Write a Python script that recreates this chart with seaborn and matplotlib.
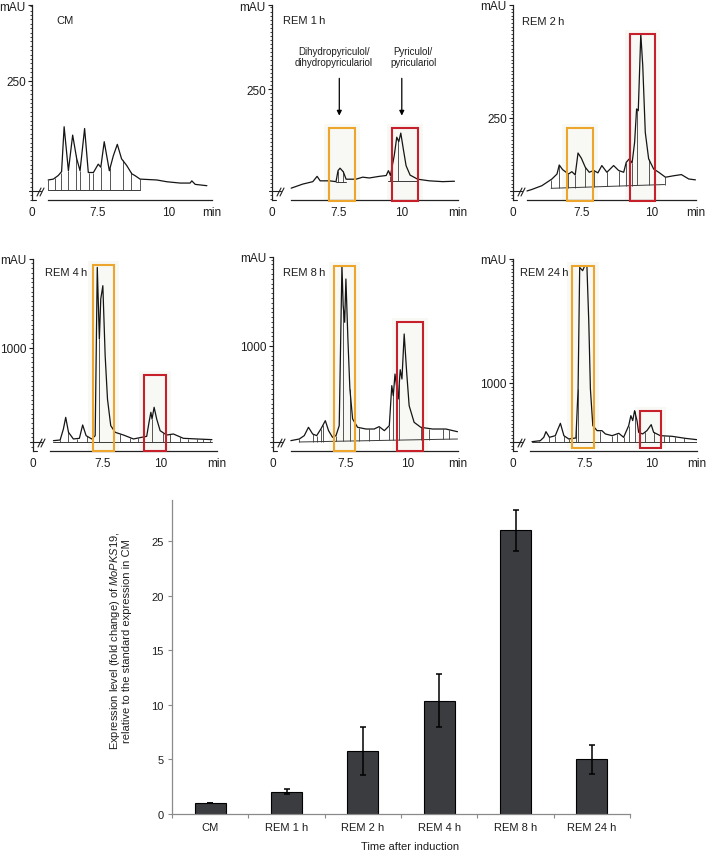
import numpy as np
import matplotlib
matplotlib.use('Agg')
import matplotlib.pyplot as plt
import matplotlib.transforms as mtransforms
from matplotlib.patches import Rectangle
from matplotlib.ticker import MultipleLocator
import seaborn as sns

# ---- HPLC traces: retention time (min) / absorbance (mAU) ----
cm_time = [5.75, 5.93, 6.10, 6.22, 6.31, 6.46, 6.61, 6.75, 6.87, 7.03, 7.16, 7.34, 7.51, 7.60, 7.72,
           7.90, 8.04, 8.18, 8.33, 8.51, 8.69, 8.80, 8.98, 9.57, 9.92, 10.39, 10.74, 10.80, 10.92, 11.33]
cm_mau = [25, 27, 35, 44, 146, 46, 127, 74, 46, 142, 42, 42, 61, 54, 112,
          46, 80, 106, 73, 58, 39, 35, 27, 25, 21, 18, 18, 23, 15, 12]
cm_drops = [5.75, 5.99, 6.19, 6.46, 6.73, 6.87, 7.18, 7.34, 7.60, 7.93, 8.37, 8.66, 8.98]
cm_base = [(5.75, 8.98, 2, 2)]

rem1_time = [5.60, 6.06, 6.46, 6.63, 6.75, 7.12, 7.38, 7.46, 7.54, 7.67, 7.78, 8.17, 8.44, 8.70, 9.10,
             9.37, 9.46, 9.54, 9.69, 9.79, 9.87, 9.95, 10.05, 10.16, 10.32, 10.62, 11.08, 11.61, 12.08]
rem1_mau = [7, 17, 23, 36, 25, 25, 23, 50, 56, 47, 29, 29, 34, 32, 36,
            38, 50, 38, 87, 132, 121, 142, 103, 62, 39, 29, 25, 23, 24]
rem1_drops = [7.46, 7.64, 9.54, 9.85]
rem1_base = [(7.38, 7.78, 23, 23), (9.43, 10.58, 25, 25)]

rem2_time = [5.54, 5.71, 6.07, 6.43, 6.61, 6.69, 6.81, 7.02, 7.14, 7.26, 7.36, 7.48, 7.62, 7.76, 7.92,
             8.07, 8.21, 8.39, 8.63, 8.81, 8.99, 9.08, 9.19, 9.29, 9.38, 9.45, 9.51, 9.60, 9.67, 9.76,
             9.88, 10.06, 10.24, 10.48, 10.77, 11.05, 11.31, 11.55]
rem2_mau = [0, 5, 18, 41, 58, 89, 73, 58, 66, 55, 130, 112, 81, 64, 70,
            62, 87, 64, 87, 70, 64, 98, 110, 96, 167, 281, 275, 538, 429, 201,
            110, 75, 64, 47, 52, 56, 41, 38]
rem2_drops = [6.40, 6.69, 7.02, 7.26, 7.62, 7.92, 8.39, 8.81, 9.07, 9.29, 9.48, 9.88, 10.45]
rem2_base = [(6.40, 10.45, 9, 22)]

rem4_time = [5.36, 5.65, 5.79, 5.89, 6.01, 6.22, 6.48, 6.62, 6.77, 7.01, 7.16, 7.25, 7.34, 7.40, 7.49,
             7.59, 7.69, 7.83, 8.02, 8.38, 8.81, 9.17, 9.38, 9.48, 9.56, 9.61, 9.70, 9.81, 9.96, 10.24,
             10.53, 10.96, 11.54, 12.19]
rem4_mau = [14, 21, 138, 262, 103, 32, 39, 181, 67, 32, 67, 1858, 1096, 1521, 1663,
            918, 457, 174, 103, 74, 32, 50, 60, 209, 316, 245, 369, 245, 120, 74,
            85, 39, 32, 25]
rem4_drops = [5.65, 6.00, 6.37, 6.82, 7.01, 7.34, 7.94, 8.23, 8.66, 9.02, 9.21, 9.61, 10.10, 10.39,
              10.82, 11.18, 11.54, 11.82, 12.11]
rem4_base = [(5.36, 12.19, 3, 3)]

rem8_time = [5.28, 5.62, 5.82, 5.99, 6.16, 6.32, 6.49, 6.67, 6.80, 6.96, 7.10, 7.23, 7.34, 7.39, 7.45,
             7.50, 7.58, 7.66, 7.77, 7.97, 8.31, 8.64, 8.84, 9.05, 9.25, 9.35, 9.41, 9.48, 9.61, 9.69,
             9.76, 9.85, 9.95, 10.05, 10.25, 10.52, 10.99, 11.53, 12.00]
rem8_mau = [14, 31, 66, 153, 83, 66, 135, 222, 118, 49, 66, 170, 1837, 1420, 1247,
            1698, 1073, 552, 240, 153, 135, 135, 160, 118, 170, 587, 483, 708, 448, 753,
            656, 1125, 726, 378, 205, 153, 135, 135, 107]
rem8_drops = [5.62, 6.16, 6.32, 6.49, 6.58, 6.96, 7.10, 7.39, 7.66, 8.04, 8.44, 8.84, 9.25, 9.38,
              9.65, 10.52, 10.86, 11.40, 11.67]
rem8_base = [(5.62, 12.00, 0, 31)]

rem24_time = [5.52, 5.83, 5.96, 6.04, 6.17, 6.39, 6.49, 6.58, 6.71, 6.89, 7.16, 7.24, 7.30, 7.41, 7.49,
              7.57, 7.64, 7.70, 7.79, 7.95, 8.13, 8.26, 8.51, 8.76, 8.94, 9.13, 9.21, 9.28, 9.35, 9.44,
              9.50, 9.65, 9.81, 9.97, 10.06, 10.31, 10.75, 11.24, 11.68]
rem24_mau = [5, 22, 79, 175, 79, 107, 220, 316, 107, 51, 68, 898, 2960, 2904, 2988,
             2977, 2028, 898, 277, 192, 192, 136, 107, 147, 79, 277, 446, 362, 531, 362,
             164, 136, 192, 294, 164, 107, 96, 62, 39]
rem24_drops = [5.77, 6.17, 6.39, 6.71, 6.89, 7.18, 7.24, 7.82, 8.07, 8.51, 8.69, 8.94, 9.13, 9.35,
               9.56, 9.75, 10.06, 10.44, 10.64, 10.87, 11.18]
rem24_base = [(5.52, 11.68, 5, 5)]

# highlighted windows: (t start, t end, mAU low, mAU high)
rem1_boxes = {'orange': (7.09, 8.15, -25, 154), 'red': (9.59, 10.62, -25, 154)}
rem2_boxes = {'orange': (6.96, 7.89, -35, 215), 'red': (9.20, 10.12, -35, 538)}
rem4_boxes = {'orange': (7.06, 7.97, -92, 1883), 'red': (9.28, 10.22, -92, 716)}
rem8_boxes = {'orange': (7.03, 7.88, -90, 1837), 'red': (9.56, 10.62, -90, 1247)}
rem24_boxes = {'orange': (7.01, 7.82, -105, 2988), 'red': (9.54, 10.35, -105, 520)}

# ---- qRT-PCR bars ----
bar_labels = ['CM', 'REM 1 h', 'REM 2 h', 'REM 4 h', 'REM 8 h', 'REM 24 h']
bar_values = [1.0, 2.05, 5.8, 10.4, 26.0, 5.0]
bar_errors = [0.0, 0.2, 2.2, 2.45, 1.9, 1.35]

W, H = 708, 854
BOX_COLORS = {'orange': '#eea52c', 'red': '#c8202a'}
TXT = '#1e1e1e'

sns.set_theme(style='white')
plt.rcParams['font.family'] = ['Liberation Sans', 'DejaVu Sans']
plt.rcParams['mathtext.fontset'] = 'custom'
plt.rcParams['mathtext.rm'] = 'Liberation Sans'
plt.rcParams['mathtext.it'] = 'Liberation Sans:italic'

fig = plt.figure(figsize=(W / 100, H / 100), dpi=100)


def px_axes(left, top, right, bottom):
    return fig.add_axes([left / W, 1 - bottom / H, (right - left) / W, (bottom - top) / H])


def draw_chrom(ax, rect, xlim, ylim, xstart, ytick, minor, title, title_xy,
               time, mau, drops, base, boxes):
    wpx, hpx = rect[2] - rect[0], rect[3] - rect[1]
    ax.set_facecolor('none')
    ax.set_xlim(*xlim)
    ax.set_ylim(*ylim)

    # highlight boxes with their faint halo
    for key, (t0, t1, a0, a1) in boxes.items():
        tpad = 5 * (xlim[1] - xlim[0]) / wpx
        apad = 4 * (ylim[1] - ylim[0]) / hpx
        ax.add_patch(Rectangle((t0 - tpad, a0), t1 - t0 + 2 * tpad, a1 - a0 + apad,
                               facecolor='#ecebe3', edgecolor='none', alpha=0.35,
                               zorder=0, clip_on=False))
        ax.add_patch(Rectangle((t0, a0), t1 - t0, a1 - a0, facecolor='none',
                               edgecolor=BOX_COLORS[key], lw=1.5, zorder=4, clip_on=False))

    # integration baselines and drop lines
    for t0, t1, a0, a1 in base:
        ax.plot([t0, t1], [a0, a1], color='#3a3a3a', lw=0.7, zorder=2)
    for d in drops:
        lo = 0
        for t0, t1, a0, a1 in base:
            if t0 - 0.02 <= d <= t1 + 0.02:
                lo = np.interp(d, [t0, t1], [a0, a1])
        ax.vlines(d, lo, np.interp(d, time, mau), color='#3a3a3a', lw=0.6, zorder=2)

    sns.lineplot(x=time, y=mau, ax=ax, color='#151515', lw=0.9, sort=False,
                 estimator=None, zorder=3)
    ax.set_xlabel('')
    ax.set_ylabel('')

    for s in ['top', 'right']:
        ax.spines[s].set_visible(False)
    for s in ['left', 'bottom']:
        ax.spines[s].set_color('#222222')
        ax.spines[s].set_linewidth(0.9)
    ax.spines['bottom'].set_bounds(xstart, xlim[1])

    ax.set_xticks([xlim[0], 7.5, 10, xlim[1]], ['0', '7.5', '10', 'min'])
    ax.tick_params(axis='x', length=2.5, width=0.8, pad=2, labelsize=8.5, colors=TXT)
    xt = ax.xaxis.get_major_ticks()
    xt[0].tick1line.set_visible(False)
    xt[-1].tick1line.set_visible(False)

    ax.set_yticks([ytick, ylim[1]], [str(ytick), 'mAU'])
    ax.yaxis.set_minor_locator(MultipleLocator(minor))
    ax.tick_params(axis='y', which='major', length=3, width=0.8, pad=1.5, labelsize=8.5,
                   colors=TXT, left=True)
    ax.tick_params(axis='y', which='minor', length=1.6, width=0.6, color='#222222', left=True)

    # axis break mark, in pixels from the lower-left corner of the axes
    deco = mtransforms.Affine2D().scale(1 / wpx, 1 / hpx) + ax.transAxes
    kw = dict(color='#222222', lw=0.8, transform=deco, clip_on=False)
    ax.plot([-3, 9], [9, 9], **kw)
    ax.plot([0, 4], [0, 0], **kw)
    ax.plot([5, 9], [4, 12], **kw)
    ax.plot([8, 12], [4, 12], **kw)

    fig.text(title_xy[0] / W, 1 - title_xy[1] / H, title, fontsize=8, ha='left',
             va='center', color=TXT)


panels = [
    dict(rect=(32, 6, 212, 201), xlim=(5.18, 11.51), ylim=(-20.5, 422.7), xstart=5.74,
         ytick=250, minor=10, title='CM', title_xy=(56, 21),
         time=cm_time, mau=cm_mau, drops=cm_drops, base=cm_base, boxes={}),
    dict(rect=(272, 6, 458, 201), xlim=(4.84, 12.22), ylim=(-22, 456), xstart=5.60,
         ytick=250, minor=10, title='REM 1\u2009h', title_xy=(283, 21),
         time=rem1_time, mau=rem1_mau, drops=rem1_drops, base=rem1_base, boxes=rem1_boxes),
    dict(rect=(513, 6, 696, 201), xlim=(5.04, 11.57), ylim=(-31, 637), xstart=5.54,
         ytick=250, minor=12.5, title='REM 2\u2009h', title_xy=(522, 22),
         time=rem2_time, mau=rem2_mau, drops=rem2_drops, base=rem2_base, boxes=rem2_boxes),
    dict(rect=(33, 260, 217, 452), xlim=(4.48, 12.41), ylim=(-96, 1947), xstart=5.22,
         ytick=1000, minor=50, title='REM 4\u2009h', title_xy=(45, 273),
         time=rem4_time, mau=rem4_mau, drops=rem4_drops, base=rem4_base, boxes=rem4_boxes),
    dict(rect=(273, 258, 458, 452), xlim=(4.56, 12.02), ylim=(-94, 1927), xstart=5.28,
         ytick=1000, minor=50, title='REM 8\u2009h', title_xy=(283, 273),
         time=rem8_time, mau=rem8_mau, drops=rem8_drops, base=rem8_base, boxes=rem8_boxes),
    dict(rect=(513, 260, 697, 452), xlim=(4.81, 11.68), ylim=(-153, 3102), xstart=5.45,
         ytick=1000, minor=62.5, title='REM 24\u2009h', title_xy=(520, 273),
         time=rem24_time, mau=rem24_mau, drops=rem24_drops, base=rem24_base, boxes=rem24_boxes),
]

chrom_axes = []
for p in panels:
    ax = px_axes(*p['rect'])
    draw_chrom(ax, **p)
    chrom_axes.append(ax)

# arrows and compound names on the REM 1 h panel
ax1 = chrom_axes[1]
for t in [7.51, 9.99]:
    ax1.annotate('', xy=(t, 178), xytext=(t, 283),
                 arrowprops=dict(arrowstyle='-|>', color='black', lw=0.9, mutation_scale=7))
ax1.text(7.30, 330, 'Dihydropyriculol/\ndihydropyriculariol', fontsize=7, ha='center',
         va='center', linespacing=1.1, color=TXT)
ax1.text(10.44, 330, 'Pyriculol/\npyriculariol', fontsize=7, ha='center', va='center',
         linespacing=1.1, color=TXT)

# ---- bar chart ----
bax = px_axes(172, 500.7, 630, 815)
sns.barplot(x=bar_labels, y=bar_values, ax=bax, color='#3b3c40', edgecolor='black',
            linewidth=0.8, width=0.41, saturation=1, errorbar=None)
bax.errorbar(np.arange(len(bar_values)), bar_values, yerr=bar_errors, fmt='none',
             ecolor='black', elinewidth=1.1, capsize=2.2, capthick=1.1)
bax.set_xlim(-0.5, 5.5)
bax.set_ylim(0, 28.8)
bax.set_xlabel('')
bax.set_ylabel('')
bax.set_yticks([0, 5, 10, 15, 20, 25])
bax.set_xticks(np.arange(-0.5, 5.6, 1), minor=True)
for s in ['top', 'right']:
    bax.spines[s].set_visible(False)
for s in ['left', 'bottom']:
    bax.spines[s].set_color('#8a8a8a')
    bax.spines[s].set_linewidth(0.9)
bax.tick_params(axis='y', length=3, width=0.8, color='#8a8a8a', pad=3, labelsize=8,
                labelcolor=TXT, left=True)
bax.tick_params(axis='x', which='major', length=0, pad=6, labelsize=8, labelcolor=TXT)
bax.tick_params(axis='x', which='minor', length=3, width=0.8, color='#8a8a8a', bottom=True)

fig.text(120 / W, 1 - 641 / H,
         'Expression level (fold change) of $\\mathit{MoPKS19}$,\n'
         'relative to the standard expression in CM',
         rotation=90, ha='center', va='center', multialignment='center', fontsize=8,
         linespacing=1.05, color=TXT)
fig.text(410 / W, 1 - 847 / H, 'Time after induction', ha='center', va='center',
         fontsize=8, color=TXT)

fig.savefig('out.png', dpi=100)
